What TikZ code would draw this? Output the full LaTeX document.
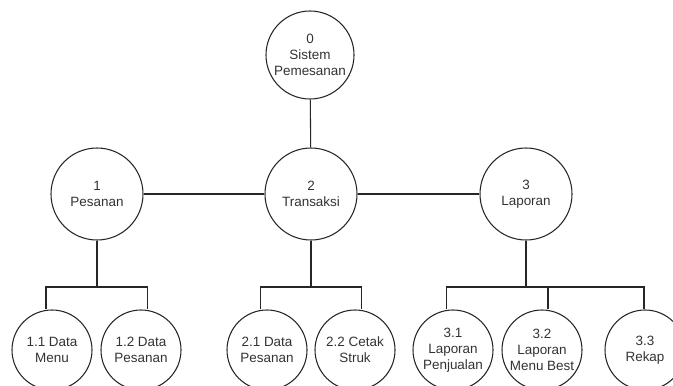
\documentclass[tikz,border=0pt]{standalone}
\usepackage{fontspec}
\setmainfont{Liberation Sans}
\usetikzlibrary{positioning}

\begin{document}
\begin{tikzpicture}[x = 0.75pt, y = -0.75pt,
	font = \fontsize{10.1}{12}\selectfont,
	proc/.style = {circle, draw = black!85, line width = 0.8pt, align = center, inner sep = 0pt, text = black!80},
	topproc/.style = {proc, minimum size = 66pt},
	midproc/.style = {proc, minimum size = 69pt},
	subproc/.style = {proc, minimum size = 60pt},
	link/.style = {draw = black!85, line width = 0.8pt}]

	% Frame
	
	\useasboundingbox (0, 0) rectangle (673, 385);

	% Processes
	
	\node [topproc] (p0) at (310, 55) {0\\Sistem\\Pemesanan};
	
	\node [midproc] (p1) at (97, 194) {1\\Pesanan};
	\node [midproc] (p2) at (311, 194) {2\\Transaksi};
	\node [midproc] (p3) at (526, 194) {3\\Laporan};
	
	\node [subproc] (p11) at (52, 350) {1.1 Data\\Menu};
	\node [subproc] (p12) at (141, 350) {1.2 Data\\Pesanan};
	\node [subproc] (p21) at (267, 350) {2.1 Data\\Pesanan};
	\node [subproc] (p22) at (355, 350) {2.2 Cetak\\Struk};
	\node [subproc] (p31) at (453, 350) {3.1\\Laporan\\Penjualan};
	\node [subproc] (p32) at (542, 350) {3.2\\Laporan\\Menu Best};
	\node [subproc] (p33) at (645, 350) {3.3\\Rekap};

	% Junctions
	
	\coordinate (j1) at (97, 287);
	\coordinate (j2) at (311, 287);
	\coordinate (j3) at (526, 287);

	% Level 1 links
	
	\draw [link] (p0) -- (p2);
	\draw [link] (p1) -- (p2) -- (p3);
	
	% Level 2 links
	
	\foreach \p in {1, 2, 3}
		\draw [link] (p\p) -- (j\p);
	
	\draw [link] ([xshift = -4.5pt] p11.north) |- (j1) -| ([xshift = 5pt] p12.north);
	\draw [link] ([xshift = -5pt] p21.north) |- (j2) -| ([xshift = 5pt] p22.north);
	\draw [link] ([xshift = -5pt] p31.north) |- (j3) -| ([xshift = -0.75pt] p33.north);
	\draw [link] ([xshift = 4.5pt] p32.north) |- (j3);

\end{tikzpicture}
\end{document}
